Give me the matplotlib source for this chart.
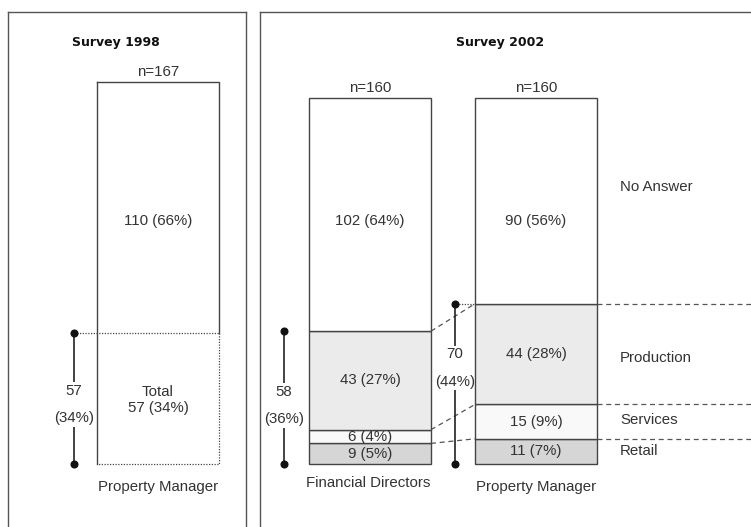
import numpy as np
import matplotlib.pyplot as plt

# survey counts, stacked from the bottom up
categories = ["Retail", "Services", "Production", "No Answer"]
fd_2002 = [9, 6, 43, 102]
fd_2002_pct = [5, 4, 27, 64]
pm_2002 = [11, 15, 44, 90]
pm_2002_pct = [7, 9, 28, 56]
pm_1998 = [57, 110]          # total (all sectors), no answer
pm_1998_pct = [34, 66]
n_fd_2002 = 160
n_pm_2002 = 160
n_pm_1998 = 167
sector_pct_fd = 36
sector_pct_pm = 44

colors = ["#d6d6d6", "#f9f9f9", "#ebebeb", "white"]
TXT = "#333333"
EDGE = "#444444"
FONT = "Liberation Sans"
FS = 10.8

W, H = 751, 527
fig = plt.figure(figsize=(W / 100, H / 100), dpi=100)

# one data unit = 2.29 px, bar base at y=464 px
scale = 2.29
ylo = -(H - 464) / scale
yhi = (464 - 12) / scale


def panel(x0, x1):
    ax = fig.add_axes([x0 / W, 0, (x1 - x0) / W, (H - 12) / H])
    ax.set_xlim(x0, x1)
    ax.set_ylim(ylo, yhi)
    ax.set_xticks([])
    ax.set_yticks([])
    ax.spines["bottom"].set_visible(False)
    for s in ax.spines.values():
        s.set_color("#555555")
        s.set_linewidth(1.0)
    return ax


def bracket(ax, x, top, label, pct, ytext):
    ax.plot([x, x], [0, top], color="#222222", lw=1.2, zorder=1.5)
    ax.plot([x, x], [0, top], "o", color="#111111", ms=4.8, zorder=4)
    ax.text(x, ytext, f"{label}\n({pct}%)", ha="center", va="center",
            fontsize=FS, family=FONT, color=TXT, linespacing=2.25, zorder=1.8,
            bbox=dict(facecolor="white", edgecolor="none", pad=1.0))


bw = 122

# ---- Survey 1998 ----
ax1 = panel(8, 246)
xc = 158
ax1.bar(xc, pm_1998[0], width=bw, color="white", edgecolor="none")
ax1.bar(xc, pm_1998[1], bottom=pm_1998[0], width=bw, color="white", edgecolor="none")
left, right = xc - bw / 2, xc + bw / 2
ax1.plot([left, left], [0, n_pm_1998], color=EDGE, lw=1.0)
ax1.plot([left, right, right], [n_pm_1998, n_pm_1998, pm_1998[0]], color=EDGE, lw=1.0)
ax1.plot([right, right, left], [pm_1998[0], 0, 0], color=EDGE, lw=0.9, ls=(0, (1, 1.2)))
ax1.plot([74, right], [pm_1998[0], pm_1998[0]], color=EDGE, lw=0.9, ls=(0, (1, 1.2)))
bracket(ax1, 74, pm_1998[0], pm_1998[0], pm_1998_pct[0], 26)
ax1.text(xc, pm_1998[0] / 2 - 0.5, f"Total\n{pm_1998[0]} ({pm_1998_pct[0]}%)", ha="center",
         va="center", fontsize=FS, family=FONT, color=TXT, linespacing=1.2)
ax1.text(xc, 106, f"{pm_1998[1]} ({pm_1998_pct[1]}%)", ha="center", va="center",
         fontsize=FS, family=FONT, color=TXT)
ax1.text(xc, n_pm_1998 + 1, f"n={n_pm_1998}", ha="center", va="bottom",
         fontsize=FS, family=FONT, color=TXT)
ax1.text(xc, -10, "Property Manager", ha="center", va="center",
         fontsize=FS, family=FONT, color=TXT)
ax1.text(116, 184, "Survey 1998", ha="center", va="center",
         fontsize=9, fontweight="bold", color="#111111")

# ---- Survey 2002 ----
ax2 = panel(260, 770)
x_fd, x_pm = 370, 536
for xpos, vals, pcts, n in [(x_fd, fd_2002, fd_2002_pct, n_fd_2002),
                            (x_pm, pm_2002, pm_2002_pct, n_pm_2002)]:
    bottoms = np.concatenate([[0], np.cumsum(vals)[:-1]])
    ax2.bar(xpos, vals, bottom=bottoms, width=bw, color=colors,
            edgecolor=EDGE, linewidth=1.0, zorder=2)
    ax2.text(xpos, n + 1, f"n={n}", ha="center", va="bottom",
             fontsize=FS, family=FONT, color=TXT)
    for i, (v, p, b) in enumerate(zip(vals, pcts, bottoms)):
        yy = 106 if i == 3 else b + v / 2
        ax2.text(xpos, yy, f"{v} ({p}%)", ha="center", va="center",
                 fontsize=FS, family=FONT, color=TXT, zorder=3)

fd_cum = np.cumsum(fd_2002)[:3]
pm_cum = np.cumsum(pm_2002)[:3]

# dashed connectors between the two 2002 bars, and on to the right edge
for a, b in zip(fd_cum, pm_cum):
    ax2.plot([x_fd + bw / 2, x_pm - bw / 2], [a, b], color="#555555",
             lw=0.9, ls=(0, (4, 3)), zorder=1)
    ax2.plot([x_pm + bw / 2, 770], [b, b], color="#555555",
             lw=0.9, ls=(0, (4, 3)), zorder=1)
ax2.plot([456, x_pm - bw / 2], [pm_cum[2], pm_cum[2]], color=EDGE, lw=0.9,
         ls=(0, (1, 1.2)))

bracket(ax2, 284, fd_cum[2], fd_cum[2], sector_pct_fd, 25.5)
bracket(ax2, 455, pm_cum[2], pm_cum[2], sector_pct_pm, 42)

# sector names to the right
label_y = [5.5, 19, 46.5, 121]
for name, yy in zip(categories, label_y):
    ax2.text(620, yy, name, ha="left", va="center",
             fontsize=FS, family=FONT, color=TXT)

ax2.text(368, -8.5, "Financial Directors", ha="center", va="center",
         fontsize=FS, family=FONT, color=TXT)
ax2.text(x_pm, -10, "Property Manager", ha="center", va="center",
         fontsize=FS, family=FONT, color=TXT)
ax2.text(500, 184, "Survey 2002", ha="center", va="center",
         fontsize=9, fontweight="bold", color="#111111")

fig.savefig("out.png", dpi=100)
